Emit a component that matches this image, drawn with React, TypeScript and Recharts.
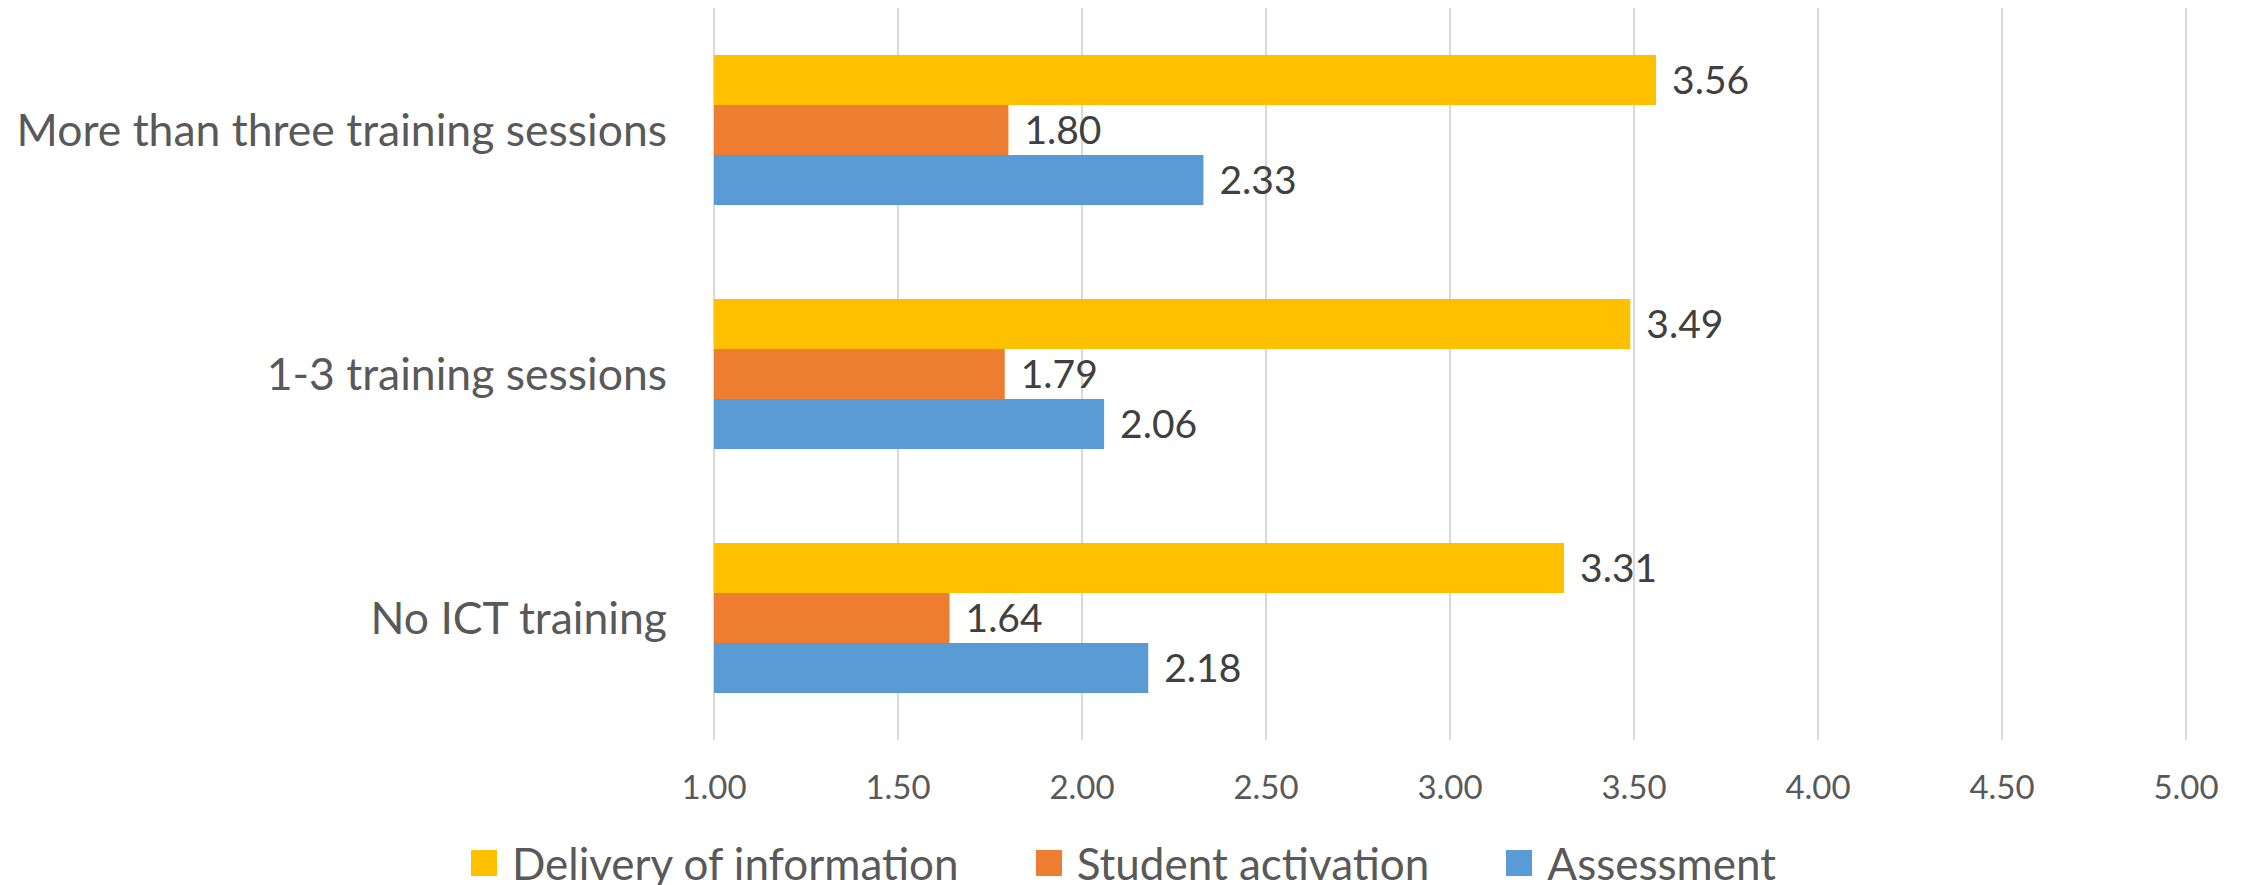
import React from "react";
import {
  BarChart,
  Bar,
  XAxis,
  YAxis,
  CartesianGrid,
  Legend,
  LabelList,
} from "recharts";

// Training groups, listed top to bottom
const categories = [
  "More than three training sessions",
  "1-3 training sessions",
  "No ICT training",
];

// Mean scores per ICT use type
const deliveryOfInformation = [3.56, 3.49, 3.31];
const studentActivation = [1.8, 1.79, 1.64];
const assessment = [2.33, 2.06, 2.18];

const seriesKeys = ["delivery", "activation", "assessment"];
const seriesNames = ["Delivery of information", "Student activation", "Assessment"];
const seriesColors = ["#FFC000", "#ED7D31", "#5B9BD5"];

const xTicks = [1.0, 1.5, 2.0, 2.5, 3.0, 3.5, 4.0, 4.5, 5.0];

const data = categories.map((name, i) => ({
  name,
  delivery: deliveryOfInformation[i],
  activation: studentActivation[i],
  assessment: assessment[i],
}));

const FONT = "Lato, 'Open Sans', sans-serif";
const TEXT = "#595959";
const VALUE_TEXT = "#404040";

const fmt = (v: number) => Number(v).toFixed(2);

// Legend items kept in series order
const LegendContent = (props: any) => {
  const payload = props.payload || [];
  const items = seriesNames
    .map((n) => payload.find((p: any) => p.value === n))
    .filter(Boolean);
  return (
    <div
      style={{
        display: "flex",
        justifyContent: "center",
        alignItems: "center",
        height: 44,
        fontFamily: FONT,
        fontSize: 44,
        color: TEXT,
        whiteSpace: "nowrap",
      }}
    >
      {items.map((it: any, i: number) => (
        <div
          key={i}
          style={{
            display: "flex",
            alignItems: "center",
            marginLeft: i === 0 ? 0 : 77,
          }}
        >
          <span
            style={{
              display: "inline-block",
              width: 26,
              height: 26,
              background: it.color,
              marginRight: 15,
            }}
          />
          <span style={{ lineHeight: "44px" }}>{it.value}</span>
        </div>
      ))}
    </div>
  );
};

export default function App() {
  return (
    <div style={{ position: "absolute", left: 0, top: 0, background: "#fff" }}>
      <BarChart
        width={2247}
        height={885}
        data={data}
        layout="vertical"
        margin={{ top: 8, right: 61, bottom: 0, left: 0 }}
        barSize={50}
        barGap={0}
      >
        <CartesianGrid
          horizontal={false}
          vertical={true}
          stroke="#D9D9D9"
          strokeWidth={2}
        />
        <XAxis
          type="number"
          domain={[1, 5]}
          ticks={xTicks}
          tickFormatter={fmt}
          axisLine={false}
          tickLine={false}
          tickSize={0}
          tickMargin={36}
          height={101}
          interval={0}
          tick={{ fill: TEXT, fontSize: 33, fontFamily: FONT }}
        />
        <YAxis
          type="category"
          dataKey="name"
          width={714}
          axisLine={false}
          tickLine={false}
          tickSize={0}
          tickMargin={47}
          tick={{ fill: TEXT, fontSize: 44.5, fontFamily: FONT }}
        />
        <Legend
          verticalAlign="bottom"
          align="center"
          content={<LegendContent />}
          wrapperStyle={{ bottom: 0, left: 0, width: 2247, height: 44 }}
        />
        {seriesKeys.map((k, i) => (
          <Bar
            key={k}
            dataKey={k}
            name={seriesNames[i]}
            fill={seriesColors[i]}
            isAnimationActive={false}
          >
            <LabelList
              dataKey={k}
              position="right"
              offset={16}
              formatter={fmt}
              fill={VALUE_TEXT}
              style={{ fontSize: 39, fontFamily: FONT }}
            />
          </Bar>
        ))}
      </BarChart>
    </div>
  );
}
